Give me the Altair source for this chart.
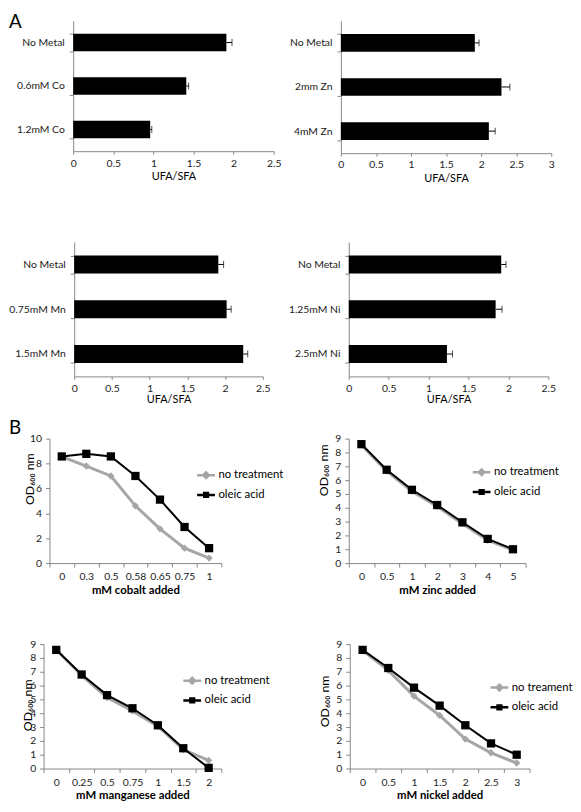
import altair as alt
import pandas as pd

FONT = "Lato"
GREY = "#a6a6a6"
BLACK = "#000000"
AXIS = "#868686"
TXT = "#1a1a1a"

# ---------------- Panel A data ----------------
co_labels = ["No Metal", "0.6mM Co", "1.2mM Co"]
co_ratio = [1.91, 1.41, 0.96]
co_err = [0.07, 0.03, 0.02]

zn_labels = ["No Metal", "2mm Zn", "4mM Zn"]
zn_ratio = [1.91, 2.29, 2.11]
zn_err = [0.06, 0.12, 0.09]

mn_labels = ["No Metal", "0.75mM Mn", "1.5mM Mn"]
mn_ratio = [1.91, 2.02, 2.24]
mn_err = [0.07, 0.06, 0.06]

ni_labels = ["No Metal", "1.25mM Ni", "2.5mM Ni"]
ni_ratio = [1.91, 1.84, 1.23]
ni_err = [0.06, 0.08, 0.07]

# ---------------- Panel B data ----------------
names_std = ["no treatment", "oleic acid"]
names_ni = ["no treament", "oleic acid"]

cobalt_mM = ["0", "0.3", "0.5", "0.58", "0.65", "0.75", "1"]
cobalt_none = [8.55, 7.8, 7.0, 4.6, 2.75, 1.2, 0.4]
cobalt_oleic = [8.57, 8.78, 8.57, 7.0, 5.1, 2.9, 1.2]

zinc_mM = ["0", "0.5", "1", "2", "3", "4", "5"]
zinc_none = [8.55, 6.65, 5.2, 4.1, 2.85, 1.65, 0.95]
zinc_oleic = [8.6, 6.75, 5.3, 4.2, 2.95, 1.75, 1.0]

mn_mM = ["0", "0.25", "0.5", "0.75", "1", "1.5", "2"]
mn_none = [8.6, 6.73, 5.14, 4.17, 3.06, 1.37, 0.59]
mn_oleic = [8.58, 6.8, 5.31, 4.36, 3.13, 1.47, 0.05]

ni_mM = ["0", "0.5", "1", "1.5", "2", "2.5", "3"]
ni_none = [8.53, 7.1, 5.24, 3.84, 2.13, 1.14, 0.4]
ni_oleic = [8.58, 7.27, 5.85, 4.55, 3.13, 1.82, 1.0]

YTITLE = "OD₆₀₀ nm"

P_DIAMOND = "M-1,0H1M0,-0.32L0.32,0L0,0.32L-0.32,0Z"
P_SQUARE = "M-1,0H1M-0.21,-0.21H0.21V0.21H-0.21Z"

RES = dict(fill="independent", stroke="independent", shape="independent")


def spacer(L, T, gw, h, R, B):
    return alt.Chart(pd.DataFrame({"s": [0]})).mark_rule(
        strokeOpacity=0, opacity=0
    ).encode(x=alt.value(-L), y=alt.value(-T), x2=alt.value(gw + R), y2=alt.value(h + B))


def letter(txt, x, y):
    return alt.Chart(pd.DataFrame({"t": [txt]})).mark_text(
        font=FONT, fontSize=19, align="left", baseline="top", color=BLACK
    ).encode(text="t:N", x=alt.value(x), y=alt.value(y))


def bar_panel(labels, values, errs, xmax, off, w, h, L, T, R, B, title_pad, tag=None):
    df = pd.DataFrame({"cond": labels, "ratio": values, "err": errs})
    df["hi"] = df["ratio"] + df["err"]
    ticks = [i * 0.5 for i in range(int(xmax * 2) + 1)]
    gw = off + w
    y_axis = alt.Axis(title=None, tickBand="extent", tickSize=4, labelPadding=5,
                      labelFontSize=10.5, labelColor=TXT, labelLimit=200,
                      offset=-off, minExtent=0)
    y_scale = alt.Scale(paddingInner=0.6, paddingOuter=0.3)
    x_axis = alt.Axis(values=ticks, format=".1~f", title="UFA/SFA", titlePadding=title_pad,
                      titleFontWeight="normal", titleFontSize=11,
                      tickSize=3, labelPadding=4, labelFontSize=10.5, labelFlush=False,
                      labelOverlap=False, grid=False, labelColor=TXT)
    x_scale = alt.Scale(domain=[0, xmax], range=[off, off + w], nice=False, zero=True)
    y = alt.Y("cond:N", sort=labels, scale=y_scale, axis=y_axis)
    base = alt.Chart(df)
    bars = base.mark_bar(color=BLACK).encode(
        x=alt.X("ratio:Q", scale=x_scale, axis=x_axis), y=y)
    rule = base.mark_rule(color=BLACK, strokeWidth=1).encode(
        x=alt.X("ratio:Q", scale=x_scale, axis=x_axis), x2="hi:Q", y=y)
    cap = base.mark_tick(color=BLACK, orient="vertical", thickness=1, size=7).encode(
        x=alt.X("hi:Q", scale=x_scale, axis=x_axis), y=y)
    layers = [spacer(L, T, gw, h, R, B), bars, rule, cap]
    if tag:
        layers.append(letter(tag, -L, -T))
    return alt.layer(*layers).properties(width=gw, height=h)


def line_panel(cats, none_vals, oleic_vals, names, ymax, xtitle, off, w, h, L, T, R, B,
               ytx, yty, lx, ly, tag=None):
    n = len(cats)
    gw = off + w
    df = pd.DataFrame({
        "conc": cats + cats,
        "od": none_vals + oleic_vals,
        "series": [names[0]] * n + [names[1]] * n,
        "i": list(range(n)) + list(range(n)),
    })
    x = alt.X(
        "conc:N", sort=cats, bandPosition=0.5,
        scale=alt.Scale(type="band", paddingInner=0, paddingOuter=0, range=[off, off + w]),
        axis=alt.Axis(title=xtitle, tickBand="extent", tickSize=4, labelAngle=0,
                      labelPadding=5, labelFontSize=10.5, labelColor=TXT,
                      titlePadding=2, titleFontWeight="bold",
                      titleFontSize=11.5, titleColor=BLACK),
    )
    yvals = list(range(0, ymax + 1, 2 if ymax == 10 else 1))
    y = alt.Y(
        "od:Q",
        scale=alt.Scale(domain=[0, ymax], nice=False),
        axis=alt.Axis(values=yvals, title=None, grid=False, tickSize=4,
                      labelPadding=4, labelFontSize=10.5, labelColor=TXT,
                      minExtent=0, offset=-off),
    )
    base = alt.Chart(df)
    g = base.transform_filter(alt.datum.series == names[0])
    k = base.transform_filter(alt.datum.series == names[1])
    g_line = g.mark_line(color=GREY, strokeWidth=3).encode(x=x, y=y, order="i:Q")
    g_pts = g.mark_point(shape="diamond", filled=True, color=GREY, size=55, opacity=1).encode(x=x, y=y)
    k_line = k.mark_line(color=BLACK, strokeWidth=2).encode(x=x, y=y, order="i:Q")
    k_pts = k.mark_point(shape="square", filled=True, color=BLACK, size=70, opacity=1).encode(x=x, y=y)

    ytitle = alt.Chart(pd.DataFrame({"t": [YTITLE]})).mark_text(
        font=FONT, fontSize=12.5, angle=270, align="center", baseline="middle", color=BLACK
    ).encode(text="t:N", x=alt.value(ytx), y=alt.value(yty))

    leg = alt.Legend(title=None, orient="none", legendX=lx, legendY=ly, symbolSize=324,
                     symbolStrokeWidth=2.5, symbolOpacity=1, labelFontSize=11.5,
                     labelFont=FONT, labelOffset=2, rowPadding=1, padding=0,
                     labelColor=BLACK)
    legend_layer = base.mark_point(opacity=0, filled=True).encode(
        x=x, y=y,
        fill=alt.Fill("series:N", scale=alt.Scale(domain=names, range=[GREY, BLACK]), legend=leg),
        stroke=alt.Stroke("series:N", scale=alt.Scale(domain=names, range=[GREY, BLACK]), legend=leg),
        shape=alt.Shape("series:N", scale=alt.Scale(domain=names, range=[P_DIAMOND, P_SQUARE]), legend=leg),
    )
    layers = [spacer(L, T, gw, h, R, B), g_line, g_pts, k_line, k_pts, ytitle, legend_layer]
    if tag:
        layers.append(letter(tag, -L, -20))
    return alt.layer(*layers).properties(width=gw, height=h)


# Column 1 panels share one origin (page x 43); inner offsets place each plot
a1 = bar_panel(co_labels, co_ratio, co_err, 2.5, 30, 203, 132, 35, 8, 10, 84, 2, tag="A")
a2 = bar_panel(zn_labels, zn_ratio, zn_err, 3.0, 0, 213, 134, 58, 8, 8, 82, 2)
a3 = bar_panel(mn_labels, mn_ratio, mn_err, 2.5, 31, 191, 136, 35, 8, 25, 36, 0)
a4 = bar_panel(ni_labels, ni_ratio, ni_err, 2.5, 0, 202, 136, 62, 8, 8, 36, 0)

b1 = line_panel(cobalt_mM, cobalt_none, cobalt_oleic, names_std, 10, "mM cobalt added",
                6, 174, 126, 35, 27, 97, 55, -14, 41, 154, 26.5, tag="B")
b2 = line_panel(zinc_mM, zinc_none, zinc_oleic, names_std, 9, "mM zinc added",
                0, 179, 126, 32, 27, 8, 55, -25, 32, 124, 23.5)
b3 = line_panel(mn_mM, mn_none, mn_oleic, names_std, 9, "mM manganese added",
                0, 180, 126, 35, 27, 96, 38, -16, 62, 140, 26.5)
b4 = line_panel(ni_mM, ni_none, ni_oleic, names_ni, 9, "mM nickel added",
                0, 182, 126, 34, 27, 8, 38, -25, 58, 141, 33.5)

row1 = alt.hconcat(a1, a2, spacing=0)
row2 = alt.hconcat(a3, a4, spacing=0)
row3 = alt.hconcat(b1, b2, spacing=0).resolve_scale(**RES)
row4 = alt.hconcat(b3, b4, spacing=0).resolve_scale(**RES)

chart = alt.vconcat(row1, row2, row3, row4, spacing=0).resolve_scale(**RES).properties(
    padding=0, background="white"
).configure_view(stroke=None).configure_axis(
    labelFont=FONT, titleFont=FONT, domainColor=AXIS, tickColor=AXIS,
    domainWidth=1, tickWidth=1, grid=False, labelOverlap=False, labelFlush=False
)

chart.save("out.html", embed_options={"renderer": "svg", "actions": False})
